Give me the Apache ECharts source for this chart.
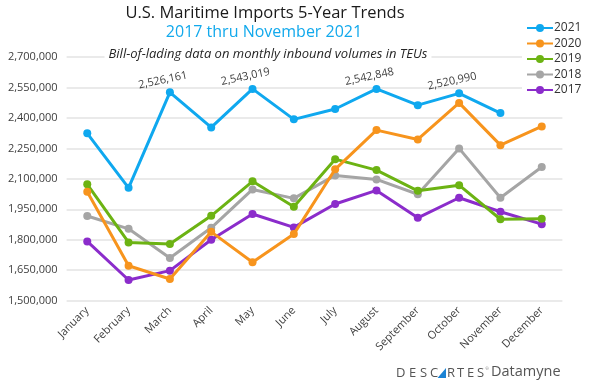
<!DOCTYPE html>
<html>
<head>
<meta charset="utf-8">
<script src="https://cdn.jsdelivr.net/npm/echarts@6/dist/echarts.min.js"></script>
<style>
html,body{margin:0;padding:0;background:#fff;}
#chart{width:600px;height:381px;}
</style>
</head>
<body>
<div id="chart"></div>
<script>
var months = ['January','February','March','April','May','June','July','August','September','October','November','December'];
var yearNames = ['2021','2020','2019','2018','2017'];
var y2021 = [2324000, 2056000, 2526161, 2353000, 2543019, 2393000, 2444000, 2542848, 2463000, 2520990, 2424000, null];
var y2020 = [2036000, 1672000, 1607000, 1839000, 1689000, 1828000, 2147000, 2340000, 2294000, 2474000, 2266000, 2358000];
var y2019 = [2073000, 1787000, 1779000, 1918000, 2088000, 1963000, 2197000, 2143000, 2041000, 2069000, 1901000, 1904000];
var y2018 = [1917000, 1854000, 1710000, 1859000, 2048000, 2004000, 2117000, 2097000, 2024000, 2250000, 2007000, 2158000];
var y2017 = [1792000, 1602000, 1648000, 1800000, 1927000, 1861000, 1976000, 2043000, 1908000, 2007000, 1938000, 1877000];
var labelled2021 = [2, 4, 7, 9];
var yTicks = [1500000, 1650000, 1800000, 1950000, 2100000, 2250000, 2400000, 2550000, 2700000];

var colors = ['#0fa8ef', '#f7941d', '#6cb313', '#a5a5a5', '#8b2ccb'];
var FONT = 'Open Sans';

function fmt(v){ return Number(v).toLocaleString('en-US'); }

var allData = [y2021, y2020, y2019, y2018, y2017];
var series = yearNames.map(function(name, i){
  var data = allData[i].map(function(v, j){
    if (i === 0 && labelled2021.indexOf(j) >= 0) {
      return {value: v, label: {show: true}};
    }
    return v;
  });
  return {
    name: name,
    type: 'line',
    data: data,
    symbol: 'circle',
    symbolSize: 8,
    z: 10 - i,
    lineStyle: {width: 3, color: colors[i]},
    itemStyle: {color: colors[i]},
    label: {
      show: false,
      position: 'top',
      distance: 4,
      rotate: 12,
      offset: [-6, 0],
      fontFamily: FONT,
      fontSize: 11,
      color: '#404040',
      formatter: function(p){ return fmt(p.value); }
    },
    emphasis: {disabled: true}
  };
});

var chart = echarts.init(document.getElementById('chart'), null, {renderer: 'canvas'});
chart.setOption({
  animation: false,
  color: colors,
  textStyle: {fontFamily: FONT},
  grid: {left: 66.6, right: 37.6, top: 57, bottom: 80.3, containLabel: false},
  legend: {
    orient: 'vertical',
    left: 522,
    top: 18,
    padding: [4, 6, 4, 4],
    backgroundColor: '#ffffff',
    itemWidth: 26,
    itemHeight: 10,
    itemGap: 3.5,
    selectedMode: false,
    textStyle: {fontFamily: FONT, fontSize: 12, color: '#333', padding: [0, 0, 0, -4]},
    data: yearNames
  },
  xAxis: {
    type: 'category',
    data: months,
    boundaryGap: true,
    axisLine: {show: false},
    axisTick: {show: false},
    axisLabel: {rotate: 45, margin: 8, fontFamily: FONT, fontSize: 11, color: '#404040', interval: 0}
  },
  yAxis: {
    type: 'value',
    min: yTicks[0],
    max: yTicks[yTicks.length - 1],
    interval: yTicks[1] - yTicks[0],
    axisLine: {show: false},
    axisTick: {show: false},
    axisLabel: {margin: 9, fontFamily: FONT, fontSize: 11, color: '#404040', formatter: function(v){ return fmt(v); }},
    splitLine: {lineStyle: {color: '#e3e3e3', width: 1.5}}
  },
  series: series,
  graphic: [
    {type: 'text', z: 100, x: 265, y: 13, style: {text: 'U.S. Maritime Imports 5-Year Trends', fontFamily: FONT, fontSize: 16.5, fill: '#1a1a1a', textAlign: 'center', textVerticalAlign: 'middle'}},
    {type: 'text', z: 100, x: 264, y: 32, style: {text: '2017 thru November 2021', fontFamily: FONT, fontSize: 16, fill: '#12a9ec', textAlign: 'center', textVerticalAlign: 'middle'}},
    {type: 'text', z: 100, x: 268, y: 54, style: {text: 'Bill-of-lading data on monthly inbound volumes in TEUs', fontFamily: FONT, fontStyle: 'italic', fontSize: 13, fill: '#262626', textAlign: 'center', textVerticalAlign: 'middle', backgroundColor: '#ffffff', padding: [2, 4, 2, 4]}},
    {type: 'text', z: 100, x: 396, y: 373, style: {text: 'D', fontFamily: FONT, fontSize: 13, fill: '#555', textVerticalAlign: 'middle'}},
    {type: 'text', z: 100, x: 409, y: 373, style: {text: 'E', fontFamily: FONT, fontSize: 13, fill: '#555', textVerticalAlign: 'middle'}},
    {type: 'text', z: 100, x: 420, y: 373, style: {text: 'S', fontFamily: FONT, fontSize: 13, fill: '#555', textVerticalAlign: 'middle'}},
    {type: 'text', z: 100, x: 430, y: 373, style: {text: 'C', fontFamily: FONT, fontSize: 13, fill: '#555', textVerticalAlign: 'middle'}},
    {type: 'polygon', z: 100, shape: {points: [[437.5, 378], [446, 368], [446, 378]]}, style: {fill: '#1b83d4'}},
    {type: 'text', z: 100, x: 447, y: 373, style: {text: 'R', fontFamily: FONT, fontSize: 13, fill: '#555', textVerticalAlign: 'middle'}},
    {type: 'text', z: 100, x: 457, y: 373, style: {text: 'T', fontFamily: FONT, fontSize: 13, fill: '#555', textVerticalAlign: 'middle'}},
    {type: 'text', z: 100, x: 467, y: 373, style: {text: 'E', fontFamily: FONT, fontSize: 13, fill: '#555', textVerticalAlign: 'middle'}},
    {type: 'text', z: 100, x: 477, y: 373, style: {text: 'S', fontFamily: FONT, fontSize: 13, fill: '#555', textVerticalAlign: 'middle'}},
    {type: 'text', z: 100, x: 485.5, y: 368.5, style: {text: '\u00AE', fontFamily: FONT, fontSize: 4, fill: '#777', textVerticalAlign: 'middle'}},
    {type: 'text', z: 100, x: 491, y: 372, style: {text: 'Datamyne', fontFamily: FONT, fontSize: 14.5, fill: '#555', textVerticalAlign: 'middle'}}
  ]
});
</script>
</body>
</html>
